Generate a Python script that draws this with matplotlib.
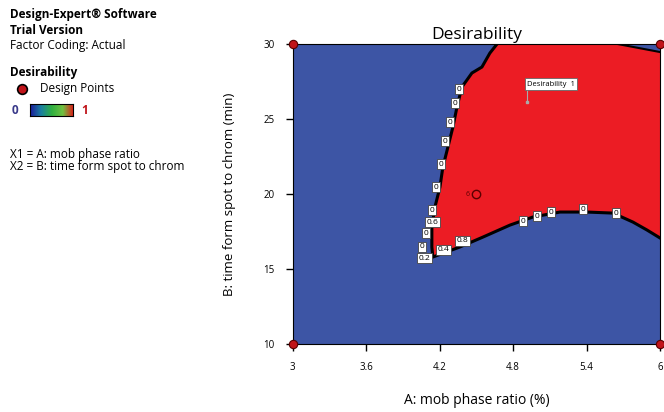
import numpy as np
import matplotlib as mpl
import matplotlib.pyplot as plt
from matplotlib.colors import LinearSegmentedColormap

plt.rcParams['font.family'] = ['Open Sans', 'DejaVu Sans']

# boundary of the desirable (red) region, factor units
left_x = [4.668, 4.610, 4.545, 4.463, 4.381, 4.341, 4.308, 4.267, 4.226, 4.202, 4.161, 4.136, 4.136, 4.144]
left_y = [30.0, 29.4, 28.47, 28.07, 27.13, 25.8, 24.47, 23.13, 21.8, 20.47, 19.13, 17.8, 16.47, 15.8]
bottom_x = [4.144, 4.365, 4.553, 4.774, 4.962, 5.183, 5.403, 5.616, 5.779, 5.894, 6.0]
bottom_y = [15.8, 16.47, 17.13, 17.93, 18.47, 18.8, 18.8, 18.73, 18.13, 17.6, 17.07]
topright_x = [6.0, 5.657]
topright_y = [29.47, 30.0]

# contour labels
label_x = [4.357, 4.324, 4.283, 4.242, 4.210, 4.169, 4.136, 4.144, 4.087, 4.054, 4.079, 4.234, 4.390,
           4.880, 4.994, 5.109, 5.370, 5.640]
label_y = [27.0, 26.07, 24.8, 23.53, 22.0, 20.47, 18.93, 18.13, 17.4, 16.47, 15.73, 16.27, 16.87,
           18.2, 18.53, 18.8, 19.0, 18.73]
label_txt = ["0", "0", "0", "0", "0", "0", "0", "0.6", "0", "0", "0.2", "0.4", "0.8",
             "0", "0", "0", "0", "0"]

# design points
design_x = [3, 3, 6, 6, 4.5]
design_y = [10, 30, 10, 30, 20]

flag_x, flag_y = 4.913, 26.13

blue = "#3d55a5"
red = "#ec1c24"

fig = plt.figure(figsize=(6.64, 4.12), dpi=100)
ax = fig.add_axes([0.441, 0.165, 0.553, 0.728])
ax.set_facecolor(blue)

poly_x = left_x + bottom_x[1:] + topright_x
poly_y = left_y + bottom_y[1:] + topright_y
ax.fill(poly_x, poly_y, color=red, lw=0, zorder=1)
ax.plot(left_x + bottom_x[1:], left_y + bottom_y[1:], color="black", lw=2.2, zorder=2)
ax.plot(topright_x, topright_y, color="black", lw=1.5, zorder=2)

for x, y, t in zip(label_x, label_y, label_txt):
    ax.text(x, y, t, fontsize=6, ha="center", va="center", zorder=4,
            bbox=dict(boxstyle="square,pad=0.2", fc="white", ec="#444444", lw=0.6))

ax.plot(design_x[:4], design_y[:4], "o", ms=6, mfc="#c0141a", mec="#5a0000", mew=0.8,
        clip_on=False, zorder=5)
ax.plot(design_x[4], design_y[4], "o", ms=6, mfc="none", mec="#5a0000", mew=1.0, zorder=5)
ax.text(design_x[4] - 0.06, design_y[4], "6", fontsize=5, ha="right", va="center", color="#5a0000")

ax.plot([flag_x, flag_x], [flag_y, flag_y + 0.85], color="#aaaaaa", lw=0.8, zorder=3)
ax.plot(flag_x, flag_y, "s", ms=2, color="#aaaaaa", zorder=3)
ax.text(flag_x, flag_y + 1.2, "Desirability  1", fontsize=5.5, ha="left", va="center", zorder=4,
        bbox=dict(boxstyle="square,pad=0.3", fc="white", ec="#666666", lw=0.6))

ax.set_xlim(3, 6)
ax.set_ylim(10, 30)
ax.set_xticks([3, 3.6, 4.2, 4.8, 5.4, 6])
ax.set_xticklabels(["3", "3.6", "4.2", "4.8", "5.4", "6"])
ax.set_yticks([10, 15, 20, 25, 30])
ax.tick_params(direction="out", length=5, width=1, labelsize=7, pad=8)
for s in ax.spines.values():
    s.set_linewidth(0.8)

ax.set_title("Desirability", fontsize=12.5, pad=4)
ax.set_xlabel("A: mob phase ratio (%)", fontsize=10, labelpad=14)
ax.set_ylabel("B: time form spot to chrom (min)", fontsize=9.5, labelpad=20)

# left-hand legend block
fs = 8.5
fig.text(0.015, 0.965, "Design-Expert\u00ae Software", fontsize=fs, fontweight="bold", va="center")
fig.text(0.015, 0.927, "Trial Version", fontsize=fs, fontweight="bold", va="center")
fig.text(0.015, 0.890, "Factor Coding: Actual", fontsize=fs, va="center")
fig.text(0.015, 0.825, "Desirability", fontsize=fs, fontweight="bold", va="center")
fig.lines.append(mpl.lines.Line2D([0.033], [0.784], marker="o", ms=7, mfc="#c0141a", mec="black",
                                  mew=1.2, transform=fig.transFigure))
fig.text(0.06, 0.784, "Design Points", fontsize=fs, va="center")
fig.text(0.018, 0.733, "0", fontsize=fs, va="center", color="#3a3a8a", fontweight="bold")
fig.text(0.122, 0.733, "1", fontsize=fs, va="center", color="#c0141a", fontweight="bold")
cax = fig.add_axes([0.045, 0.719, 0.065, 0.028])
cmap = LinearSegmentedColormap.from_list("des", ["#1a1a9a", "#1a80a0", "#30b040", "#70c040", "#e01818"])
cax.imshow(np.linspace(0, 1, 100)[None, :], aspect="auto", cmap=cmap)
cax.set_xticks([])
cax.set_yticks([])
for s in cax.spines.values():
    s.set_linewidth(0.8)

fig.text(0.015, 0.624, "X1 = A: mob phase ratio", fontsize=fs, va="center")
fig.text(0.015, 0.595, "X2 = B: time form spot to chrom", fontsize=fs, va="center")

plt.savefig("out.png", dpi=100)
